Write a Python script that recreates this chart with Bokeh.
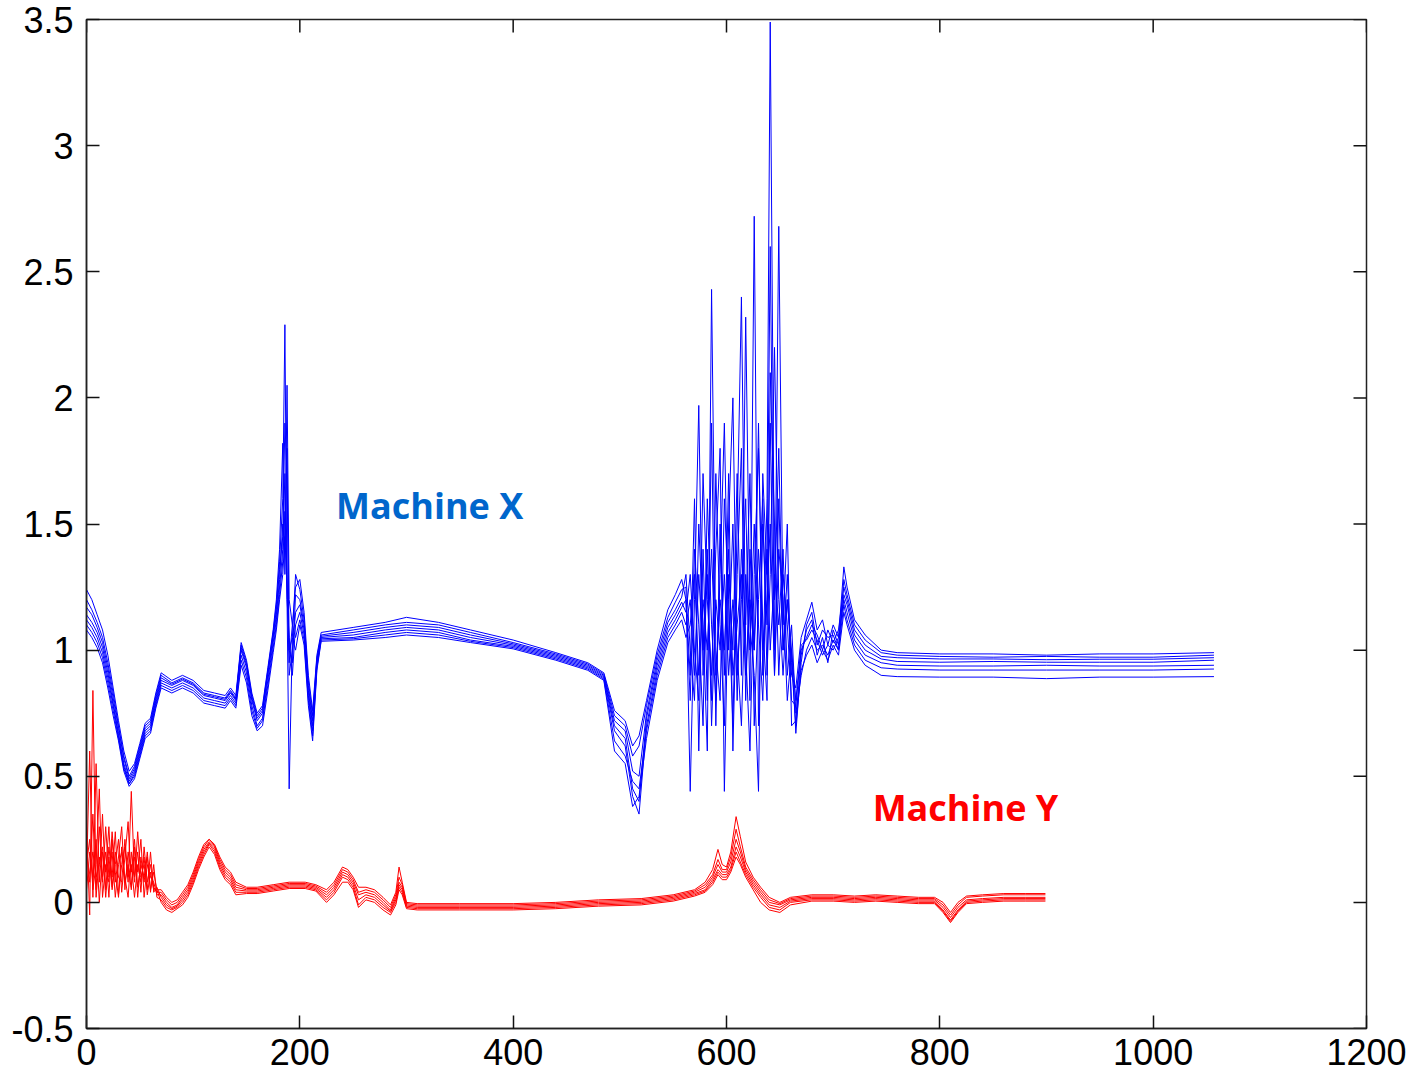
from bokeh.plotting import figure
from bokeh.models import Range1d, FixedTicker
from bokeh.core.properties import value
from bokeh.embed import file_html
from bokeh.resources import INLINE

# ---------------- data: Machine X (blue, 7 runs) ----------------
BX_HEAD = [0, 5, 10, 15, 20, 25, 30, 35, 40, 45, 50, 55, 60, 65, 70, 80, 90, 100, 110, 120,
           130, 135, 140, 145, 150, 155, 160, 165, 170, 175, 178, 181, 184, 186, 188, 190, 193, 196, 200, 204,
           208, 212, 216, 220, 250, 280, 300, 330, 360, 400, 440, 470, 485, 495, 505, 512, 518, 525, 535, 545,
           552, 558]
BX_NOISE = [562, 566, 570, 574, 578, 582, 586, 590, 594, 598, 602, 606, 610, 614, 618, 622, 626, 630, 634, 638,
            641, 645, 649, 653, 657, 661]
BX_TAIL = [665, 670, 675, 680, 685, 690, 695, 700, 705, 710, 713, 720, 730, 745, 760, 800, 850, 900, 950, 1000, 1057]

x_run1_head = [1.24, 1.20, 1.14, 1.08, 0.98, 0.85, 0.72, 0.60, 0.52, 0.55, 0.63, 0.71, 0.73, 0.83, 0.91, 0.88, 0.90, 0.88, 0.84, 0.83,
               0.82, 0.85, 0.82, 1.03, 0.96, 0.83, 0.75, 0.78, 0.93, 1.08, 1.20, 1.40, 1.82, 1.30, 2.05, 1.20, 1.10, 1.25, 1.28, 1.15,
               0.90, 0.76, 0.98, 1.07, 1.09, 1.11, 1.13, 1.11, 1.08, 1.04, 0.99, 0.95, 0.91, 0.76, 0.72, 0.62, 0.66, 0.80, 1.00, 1.16,
               1.22, 1.28]
x_run2_head = [1.20, 1.16, 1.11, 1.05, 0.95, 0.83, 0.70, 0.58, 0.50, 0.54, 0.62, 0.70, 0.72, 0.82, 0.90, 0.87, 0.89, 0.87, 0.83, 0.82,
               0.81, 0.84, 0.81, 1.02, 0.95, 0.82, 0.74, 0.77, 0.92, 1.07, 1.18, 1.35, 1.60, 2.29, 1.20, 0.45, 1.05, 1.30, 1.24, 1.12,
               0.88, 0.74, 0.97, 1.06, 1.08, 1.10, 1.11, 1.10, 1.07, 1.03, 0.985, 0.945, 0.905, 0.74, 0.70, 0.58, 0.62, 0.78, 0.98, 1.13,
               1.19, 1.24]
x_run3_head = [1.17, 1.14, 1.09, 1.03, 0.93, 0.81, 0.69, 0.57, 0.49, 0.53, 0.61, 0.69, 0.71, 0.81, 0.89, 0.865, 0.885, 0.865, 0.825, 0.815,
               0.805, 0.835, 0.805, 1.01, 0.94, 0.81, 0.73, 0.76, 0.91, 1.06, 1.16, 1.32, 1.45, 1.90, 1.70, 1.00, 0.95, 1.22, 1.20, 1.10,
               0.86, 0.72, 0.96, 1.055, 1.07, 1.09, 1.10, 1.09, 1.06, 1.025, 0.98, 0.94, 0.90, 0.72, 0.68, 0.52, 0.50, 0.75, 0.96, 1.11,
               1.16, 1.21]
x_run4_head = [1.14, 1.11, 1.07, 1.01, 0.91, 0.79, 0.67, 0.55, 0.48, 0.52, 0.60, 0.68, 0.70, 0.80, 0.88, 0.86, 0.88, 0.86, 0.82, 0.81,
               0.80, 0.83, 0.80, 1.00, 0.93, 0.80, 0.72, 0.75, 0.90, 1.05, 1.14, 1.28, 1.50, 1.40, 1.80, 0.90, 1.00, 1.15, 1.18, 1.08,
               0.84, 0.70, 0.95, 1.05, 1.06, 1.08, 1.09, 1.08, 1.05, 1.02, 0.975, 0.935, 0.895, 0.70, 0.65, 0.45, 0.40, 0.73, 0.94, 1.09,
               1.14, 1.19]
x_run5_head = [1.12, 1.09, 1.05, 0.99, 0.89, 0.78, 0.66, 0.54, 0.47, 0.51, 0.59, 0.67, 0.69, 0.79, 0.87, 0.85, 0.87, 0.85, 0.81, 0.80,
               0.79, 0.82, 0.79, 0.98, 0.91, 0.78, 0.70, 0.73, 0.88, 1.03, 1.12, 1.25, 1.40, 1.70, 1.20, 1.05, 0.90, 1.10, 1.15, 1.06,
               0.82, 0.68, 0.94, 1.045, 1.05, 1.07, 1.08, 1.07, 1.04, 1.015, 0.97, 0.93, 0.89, 0.68, 0.62, 0.42, 0.35, 0.70, 0.92, 1.07,
               1.12, 1.17]
x_run6_head = [1.10, 1.07, 1.03, 0.97, 0.87, 0.76, 0.65, 0.53, 0.47, 0.50, 0.58, 0.66, 0.68, 0.78, 0.86, 0.84, 0.86, 0.84, 0.80, 0.79,
               0.78, 0.81, 0.78, 0.96, 0.89, 0.76, 0.69, 0.72, 0.86, 1.01, 1.10, 1.22, 1.35, 1.55, 1.30, 0.95, 1.10, 1.05, 1.12, 1.04,
               0.80, 0.66, 0.93, 1.04, 1.045, 1.06, 1.07, 1.06, 1.035, 1.01, 0.965, 0.925, 0.885, 0.64, 0.58, 0.48, 0.45, 0.68, 0.90, 1.05,
               1.10, 1.15]
x_run7_head = [1.08, 1.05, 1.01, 0.95, 0.85, 0.74, 0.64, 0.52, 0.46, 0.49, 0.57, 0.65, 0.67, 0.77, 0.85, 0.83, 0.85, 0.83, 0.79, 0.78,
               0.77, 0.80, 0.77, 0.94, 0.87, 0.74, 0.68, 0.70, 0.84, 0.99, 1.08, 1.20, 1.30, 1.45, 1.25, 1.00, 1.05, 1.00, 1.10, 1.02,
               0.78, 0.64, 0.92, 1.035, 1.04, 1.05, 1.06, 1.05, 1.03, 1.005, 0.96, 0.92, 0.88, 0.60, 0.55, 0.38, 0.42, 0.65, 0.88, 1.03,
               1.08, 1.12]

x_run1_noise = [1.2, 0.9, 1.6, 0.6, 1.4, 0.8, 1.9, 0.7, 1.5, 0.9, 1.7, 0.6, 1.3, 1.8, 0.8, 1.4, 1.0, 1.9, 0.9, 1.6, 3.49, 1.2, 1.8, 1.0, 1.3, 0.9]
x_run2_noise = [1.25, 0.44, 1.2, 1.97, 0.9, 1.3, 0.8, 1.7, 1.1, 0.7, 1.5, 2.0, 0.9, 1.2, 1.6, 0.8, 2.72, 0.7, 1.5, 1.1, 1.9, 0.9, 1.4, 1.2, 0.8, 1.0]
x_run3_noise = [1.3, 1.0, 0.8, 1.5, 1.1, 0.6, 2.43, 1.0, 0.8, 1.6, 1.2, 0.7, 1.5, 2.4, 1.0, 0.6, 1.3, 1.8, 1.1, 0.8, 2.1, 1.5, 0.9, 1.3, 1.1, 0.8]
x_run4_noise = [1.15, 1.3, 1.0, 0.8, 1.7, 1.2, 0.9, 1.4, 1.8, 0.44, 1.3, 1.0, 1.7, 0.9, 2.32, 1.1, 0.9, 0.44, 1.7, 1.3, 2.6, 1.0, 2.68, 1.1, 1.5, 0.7]
x_run5_noise = [1.2, 0.8, 1.4, 1.1, 0.7, 1.6, 1.1, 0.8, 1.3, 1.9, 1.0, 1.5, 0.8, 1.4, 1.1, 1.7, 0.7, 1.2, 1.6, 0.9, 1.3, 2.2, 1.2, 0.9, 1.2, 1.0]
x_run6_noise = [1.1, 1.2, 0.9, 1.3, 1.0, 1.4, 0.7, 1.2, 1.0, 1.3, 0.9, 1.2, 1.0, 0.7, 1.3, 1.0, 1.5, 1.1, 0.8, 1.4, 1.0, 1.3, 1.1, 1.4, 0.9, 1.1]
x_run7_noise = [1.05, 1.1, 1.3, 0.9, 1.2, 1.0, 1.4, 0.9, 1.2, 1.0, 1.4, 0.9, 1.1, 1.3, 0.9, 1.2, 1.0, 1.4, 1.0, 1.2, 1.5, 0.9, 1.6, 1.0, 1.2, 0.95]

x_run1_tail = [0.85, 1.05, 1.12, 1.19, 1.08, 1.12, 1.02, 1.10, 1.05, 1.33, 1.25, 1.12, 1.06, 1.00, 0.99, 0.985, 0.985, 0.98, 0.985, 0.985, 0.99]
x_run2_tail = [0.67, 0.95, 1.10, 1.15, 1.02, 1.08, 1.05, 1.06, 1.00, 1.28, 1.22, 1.10, 1.04, 0.99, 0.98, 0.975, 0.972, 0.975, 0.972, 0.972, 0.98]
x_run3_tail = [0.78, 1.00, 1.05, 1.10, 1.06, 1.00, 1.08, 1.03, 1.08, 1.25, 1.20, 1.08, 1.02, 0.975, 0.97, 0.965, 0.965, 0.962, 0.964, 0.964, 0.97]
x_run4_tail = [0.72, 0.98, 1.08, 1.12, 0.98, 1.05, 0.95, 1.08, 1.02, 1.22, 1.18, 1.06, 1.00, 0.965, 0.955, 0.952, 0.955, 0.952, 0.952, 0.952, 0.96]
x_run5_tail = [0.80, 1.02, 1.04, 1.08, 1.04, 0.98, 1.02, 1.00, 1.05, 1.20, 1.15, 1.04, 0.98, 0.95, 0.94, 0.937, 0.937, 0.94, 0.937, 0.937, 0.94]
x_run6_tail = [0.75, 0.90, 1.00, 1.05, 1.00, 1.02, 0.98, 1.04, 1.00, 1.18, 1.12, 1.02, 0.96, 0.93, 0.925, 0.921, 0.921, 0.921, 0.921, 0.921, 0.925]
x_run7_tail = [0.70, 0.92, 0.98, 1.02, 0.95, 1.00, 0.96, 1.02, 0.98, 1.15, 1.10, 1.00, 0.94, 0.90, 0.895, 0.893, 0.893, 0.887, 0.893, 0.893, 0.895]

# ---------------- data: Machine Y (red, 6 runs) ----------------
RX_NOISE = [0, 3, 6, 9, 12, 15, 18, 21, 24, 27, 30, 33, 36, 39, 42, 45, 48, 51, 54, 57, 60, 63, 66]
RX_SMOOTH = [70, 75, 80, 85, 90, 95, 100, 105, 110, 115, 120, 125, 130, 135, 140, 150, 160, 175, 190, 205,
             215, 225, 232, 240, 245, 250, 255, 262, 270, 278, 285, 290, 293, 296, 300, 310, 350, 400, 440, 480,
             520, 550, 570, 580, 587, 592, 596, 600, 604, 609, 613, 618, 625, 632, 640, 650, 660, 680, 700, 720,
             740, 760, 780, 795, 803, 810, 817, 825, 840, 860, 880, 899]

y_run1_noise = [0.30, -0.05, 0.84, 0.05, 0.30, 0.10, 0.20, 0.02, 0.25, 0.08, 0.18, 0.30, 0.05, 0.20, 0.12, 0.25, 0.06, 0.15, 0.10, 0.18, 0.05, 0.12, 0.05]
y_run2_noise = [0.10, 0.60, 0.02, 0.55, 0.08, 0.35, 0.05, 0.22, 0.10, 0.28, 0.03, 0.15, 0.22, 0.08, 0.44, 0.10, 0.20, 0.04, 0.22, 0.08, 0.15, 0.06, 0.04]
y_run3_noise = [0.05, 0.20, 0.10, 0.25, 0.00, 0.20, 0.12, 0.30, 0.05, 0.15, 0.25, 0.04, 0.18, 0.32, 0.06, 0.18, 0.12, 0.25, 0.02, 0.15, 0.10, 0.08, 0.03]
y_run4_noise = [0.20, 0.08, 0.35, 0.02, 0.18, 0.08, 0.30, 0.10, 0.20, 0.02, 0.15, 0.20, 0.10, 0.02, 0.20, 0.08, 0.28, 0.10, 0.15, 0.05, 0.20, 0.04, 0.06]
y_run5_noise = [0.15, 0.25, 0.05, 0.15, 0.45, 0.02, 0.15, 0.08, 0.28, 0.12, 0.02, 0.22, 0.08, 0.15, 0.05, 0.22, 0.02, 0.18, 0.08, 0.20, 0.04, 0.15, 0.02]
y_run6_noise = [0.08, 0.12, 0.20, 0.10, 0.15, 0.22, 0.02, 0.18, 0.06, 0.20, 0.10, 0.08, 0.25, 0.10, 0.15, 0.02, 0.15, 0.08, 0.18, 0.03, 0.12, 0.05, 0.05]

y_run1_smooth = [0.05, 0.02, 0.00, 0.01, 0.04, 0.07, 0.12, 0.18, 0.23, 0.25, 0.23, 0.18, 0.14, 0.12, 0.08, 0.06, 0.06, 0.07, 0.08, 0.08,
                 0.07, 0.05, 0.08, 0.14, 0.13, 0.10, 0.06, 0.06, 0.05, 0.02, -0.01, 0.04, 0.14, 0.08, 0.00, -0.005, -0.005, -0.005, 0.00, 0.01,
                 0.015, 0.03, 0.05, 0.08, 0.13, 0.21, 0.15, 0.14, 0.20, 0.34, 0.26, 0.16, 0.10, 0.06, 0.02, 0.00, 0.02, 0.03, 0.03, 0.025,
                 0.03, 0.025, 0.02, 0.02, 0.00, -0.04, 0.00, 0.025, 0.03, 0.035, 0.035, 0.035]
y_run2_smooth = [0.04, 0.01, -0.01, 0.00, 0.03, 0.06, 0.11, 0.17, 0.22, 0.25, 0.225, 0.17, 0.13, 0.11, 0.07, 0.055, 0.055, 0.065, 0.075, 0.075,
                 0.065, 0.04, 0.07, 0.13, 0.12, 0.09, 0.04, 0.05, 0.04, 0.01, -0.02, 0.03, 0.10, 0.07, -0.005, -0.01, -0.01, -0.01, -0.005, 0.005,
                 0.01, 0.025, 0.045, 0.07, 0.11, 0.17, 0.13, 0.13, 0.18, 0.29, 0.22, 0.14, 0.09, 0.05, 0.01, -0.005, 0.015, 0.025, 0.025, 0.02,
                 0.025, 0.02, 0.015, 0.015, -0.01, -0.05, -0.01, 0.02, 0.025, 0.03, 0.03, 0.03]
y_run3_smooth = [0.03, 0.00, -0.02, -0.01, 0.02, 0.05, 0.10, 0.16, 0.21, 0.24, 0.22, 0.16, 0.12, 0.10, 0.06, 0.05, 0.05, 0.06, 0.07, 0.07,
                 0.06, 0.03, 0.06, 0.12, 0.11, 0.08, 0.03, 0.04, 0.03, 0.00, -0.03, 0.02, 0.08, 0.06, -0.01, -0.015, -0.015, -0.015, -0.01, 0.00,
                 0.005, 0.02, 0.04, 0.06, 0.10, 0.15, 0.12, 0.12, 0.16, 0.25, 0.20, 0.13, 0.08, 0.04, 0.00, -0.01, 0.01, 0.02, 0.02, 0.015,
                 0.02, 0.015, 0.01, 0.01, -0.02, -0.06, -0.02, 0.01, 0.015, 0.02, 0.02, 0.02]
y_run4_smooth = [0.02, -0.01, -0.025, -0.015, 0.01, 0.04, 0.09, 0.15, 0.20, 0.235, 0.21, 0.15, 0.11, 0.09, 0.05, 0.045, 0.045, 0.055, 0.065, 0.065,
                 0.055, 0.02, 0.05, 0.11, 0.10, 0.07, 0.01, 0.03, 0.02, -0.01, -0.035, 0.01, 0.07, 0.05, -0.015, -0.02, -0.02, -0.02, -0.015, -0.005,
                 0.00, 0.015, 0.035, 0.05, 0.09, 0.13, 0.11, 0.11, 0.14, 0.22, 0.18, 0.12, 0.07, 0.03, -0.01, -0.02, 0.005, 0.015, 0.015, 0.01,
                 0.015, 0.01, 0.005, 0.005, -0.03, -0.07, -0.03, 0.005, 0.01, 0.015, 0.015, 0.015]
y_run5_smooth = [0.01, -0.02, -0.03, -0.02, 0.00, 0.03, 0.08, 0.14, 0.19, 0.23, 0.20, 0.14, 0.10, 0.08, 0.04, 0.04, 0.04, 0.05, 0.06, 0.06,
                 0.05, 0.01, 0.04, 0.10, 0.09, 0.06, -0.01, 0.02, 0.01, -0.02, -0.04, 0.00, 0.06, 0.04, -0.02, -0.025, -0.025, -0.025, -0.02, -0.01,
                 -0.005, 0.01, 0.03, 0.045, 0.08, 0.12, 0.10, 0.10, 0.13, 0.20, 0.16, 0.11, 0.06, 0.02, -0.02, -0.03, 0.00, 0.01, 0.01, 0.005,
                 0.01, 0.005, 0.00, 0.00, -0.035, -0.075, -0.035, 0.00, 0.005, 0.01, 0.01, 0.01]
y_run6_smooth = [0.00, -0.03, -0.04, -0.025, -0.01, 0.02, 0.07, 0.13, 0.18, 0.22, 0.19, 0.13, 0.09, 0.07, 0.03, 0.035, 0.035, 0.045, 0.055, 0.055,
                 0.045, 0.00, 0.03, 0.08, 0.08, 0.05, -0.02, 0.01, 0.00, -0.03, -0.05, -0.01, 0.05, 0.03, -0.025, -0.03, -0.03, -0.03, -0.025, -0.015,
                 -0.01, 0.005, 0.025, 0.04, 0.07, 0.11, 0.09, 0.09, 0.12, 0.18, 0.15, 0.10, 0.05, 0.00, -0.03, -0.04, -0.01, 0.005, 0.005, 0.00,
                 0.005, 0.00, -0.005, -0.005, -0.04, -0.08, -0.04, -0.005, 0.00, 0.005, 0.005, 0.005]

X_TICKS = [0, 200, 400, 600, 800, 1000, 1200]
Y_TICKS = [-0.5, 0, 0.5, 1, 1.5, 2, 2.5, 3, 3.5]
Y_TICK_LABELS = ["-0.5", "0", "0.5", "1", "1.5", "2", "2.5", "3", "3.5"]

LABELS = ["Machine X", "Machine Y"]
LABEL_X = [234, 737]
LABEL_Y = [1.575, 0.378]
LABEL_COLORS = ["#0066cc", "#ff0000"]

X_MIN, X_MAX, Y_MIN, Y_MAX = 0, 1200, -0.5, 3.5
FRAME_W, FRAME_H = 1280, 1009
TICK_PX = 13

# ---------------- figure ----------------
p = figure(width=1414, height=1079, x_range=Range1d(X_MIN, X_MAX), y_range=Range1d(Y_MIN, Y_MAX),
           output_backend="svg", toolbar_location=None,
           min_border_left=86, min_border_right=48, min_border_top=19, min_border_bottom=51)
p.grid.visible = False
p.outline_line_color = "#222222"
p.outline_line_width = 1.5
p.background_fill_color = "white"
p.border_fill_color = "white"

FONT = "Liberation Sans"

for ax in (p.xaxis[0], p.yaxis[0]):
    ax.axis_line_color = "#222222"
    ax.axis_line_width = 1.5
    ax.major_tick_in = TICK_PX
    ax.major_tick_out = 0
    ax.major_tick_line_color = "#111111"
    ax.major_tick_line_width = 1.5
    ax.minor_tick_line_color = None
    ax.major_label_text_font = FONT
    ax.major_label_text_font_size = "36px"
    ax.major_label_text_color = "black"

p.xaxis[0].ticker = FixedTicker(ticks=X_TICKS)
p.xaxis[0].major_label_standoff = 10
p.yaxis[0].ticker = FixedTicker(ticks=Y_TICKS)
p.yaxis[0].major_label_overrides = {t: l for t, l in zip(Y_TICKS, Y_TICK_LABELS)}
p.yaxis[0].major_label_standoff = 13

# inward ticks on the top and right edges of the box
dy = TICK_PX * (Y_MAX - Y_MIN) / FRAME_H
dx = TICK_PX * (X_MAX - X_MIN) / FRAME_W
p.segment(x0=X_TICKS, y0=[Y_MAX] * len(X_TICKS), x1=X_TICKS, y1=[Y_MAX - dy] * len(X_TICKS),
          line_color="#111111", line_width=1.5)
p.segment(x0=[X_MAX] * len(Y_TICKS), y0=Y_TICKS, x1=[X_MAX - dx] * len(Y_TICKS), y1=Y_TICKS,
          line_color="#111111", line_width=1.5)

blue_x = BX_HEAD + BX_NOISE + BX_TAIL
blue_runs = [
    x_run1_head + x_run1_noise + x_run1_tail,
    x_run2_head + x_run2_noise + x_run2_tail,
    x_run3_head + x_run3_noise + x_run3_tail,
    x_run4_head + x_run4_noise + x_run4_tail,
    x_run5_head + x_run5_noise + x_run5_tail,
    x_run6_head + x_run6_noise + x_run6_tail,
    x_run7_head + x_run7_noise + x_run7_tail,
]
red_x = RX_NOISE + RX_SMOOTH
red_runs = [
    y_run1_noise + y_run1_smooth,
    y_run2_noise + y_run2_smooth,
    y_run3_noise + y_run3_smooth,
    y_run4_noise + y_run4_smooth,
    y_run5_noise + y_run5_smooth,
    y_run6_noise + y_run6_smooth,
]

for run in blue_runs:
    n = min(len(blue_x), len(run))
    p.line(blue_x[:n], run[:n], line_color="#0000ff", line_width=1)
for run in red_runs:
    n = min(len(red_x), len(run))
    p.line(red_x[:n], run[:n], line_color="#ff0000", line_width=1)

p.text(x=LABEL_X, y=LABEL_Y, text=LABELS, text_color=LABEL_COLORS,
       text_font=value("Open Sans"), text_font_style="bold", text_font_size="36px",
       text_baseline="alphabetic", text_align="left")

open("out.html", "w").write(file_html(p, INLINE))
